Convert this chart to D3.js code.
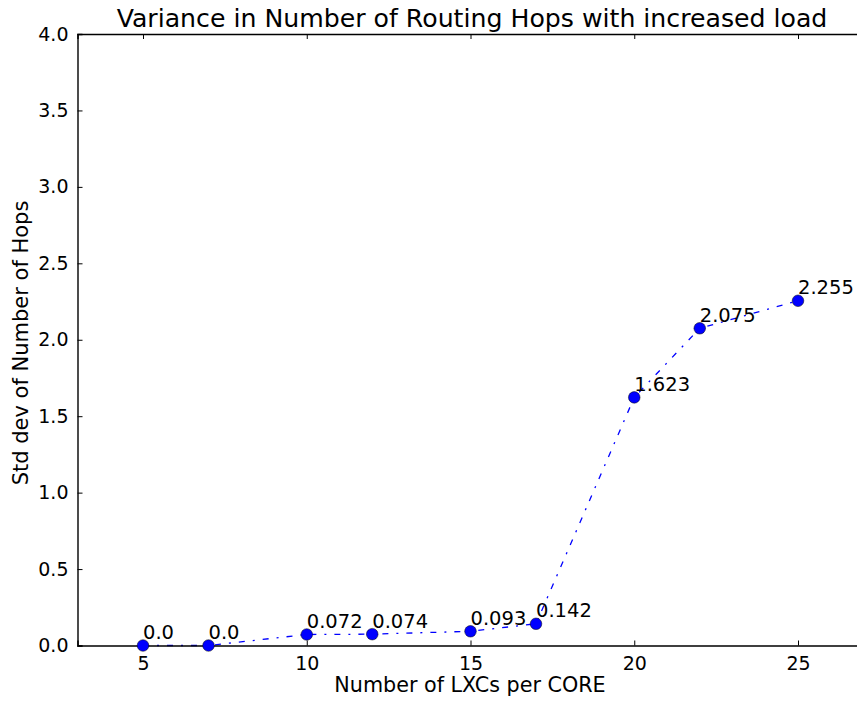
<!DOCTYPE html>
<html>
<head>
<meta charset="utf-8">
<script src="https://cdn.jsdelivr.net/npm/d3@7"></script>
<style>
  html, body { margin: 0; padding: 0; background: #fff; }
  svg { display: block; font-family: "DejaVu Sans", sans-serif; }
</style>
</head>
<body>
<svg id="chart" width="857" height="701"></svg>
<script>
const xValues = [5, 7, 10, 12, 15, 17, 20, 22, 25];
const yValues = [0.0, 0.0, 0.072, 0.074, 0.093, 0.142, 1.623, 2.075, 2.255];
const pointLabels = ["0.0", "0.0", "0.072", "0.074", "0.093", "0.142", "1.623", "2.075", "2.255"];
const xTicks = [5, 10, 15, 20, 25];
const yTicks = [0.0, 0.5, 1.0, 1.5, 2.0, 2.5, 3.0, 3.5, 4.0];
const titleText = "Variance in Number of Routing Hops with increased load";
const xLabelText = "Number of LXCs per CORE";
const yLabelText = "Std dev of Number of Hops";

const svg = d3.select("#chart");
const mLeft = 77.5, mRight = 863.5, mTop = 34, mBottom = 645.5;

const x = d3.scaleLinear().domain([3, 27]).range([mLeft, mRight]);
const y = d3.scaleLinear().domain([0, 4]).range([mBottom, mTop]);

const data = xValues.map((v, i) => ({x: v, y: yValues[i], label: pointLabels[i]}));

// Line
svg.append("path")
  .datum(data)
  .attr("fill", "none")
  .attr("stroke", "#0000ff")
  .attr("stroke-width", 1.3)
  .attr("stroke-dasharray", "6,8,2,8")
  .attr("d", d3.line().x(d => x(d.x)).y(d => y(d.y)));

// Axes (ticks inward)
const tickLen = 5;
const gB = svg.append("g").attr("transform", `translate(0,${mBottom})`)
  .call(d3.axisBottom(x).tickValues(xTicks).tickSize(-tickLen).tickPadding(11).tickFormat(d3.format("d")));
const gT = svg.append("g").attr("transform", `translate(0,${mTop})`)
  .call(d3.axisTop(x).tickValues(xTicks).tickSize(-tickLen).tickFormat(""));
const gL = svg.append("g").attr("transform", `translate(${mLeft},0)`)
  .call(d3.axisLeft(y).tickValues(yTicks).tickSize(-tickLen).tickPadding(9).tickFormat(d3.format(".1f")));
const gR = svg.append("g").attr("transform", `translate(${mRight},0)`)
  .call(d3.axisRight(y).tickValues(yTicks).tickSize(-tickLen).tickFormat(""));

[gB, gT, gL, gR].forEach(g => {
  g.select(".domain").attr("stroke", "#000").attr("stroke-width", 1.4);
  g.selectAll(".tick line").attr("stroke", "#000").attr("stroke-width", 1);
  g.selectAll(".tick text").attr("fill", "#000").style("font-family", "DejaVu Sans").style("font-size", "19px");
});
gB.selectAll(".tick text").attr("dy", "0.71em");

// Markers
svg.append("g").selectAll("circle")
  .data(data).join("circle")
  .attr("cx", d => x(d.x))
  .attr("cy", d => y(d.y))
  .attr("r", 5.8)
  .attr("fill", "#0000ff")
  .attr("stroke", "#000")
  .attr("stroke-width", 0.5);

// Annotations
svg.append("g").selectAll("text")
  .data(data).join("text")
  .attr("x", d => x(d.x))
  .attr("y", d => y(d.y) - 6.5)
  .attr("fill", "#000")
  .style("font-size", "19.5px")
  .text(d => d.label);

// Title
svg.append("text")
  .attr("x", (118 + 826) / 2)
  .attr("y", 27)
  .attr("text-anchor", "middle")
  .style("font-size", "25.2px")
  .attr("fill", "#000")
  .text(titleText);

// X label
svg.append("text")
  .attr("x", (335 + 605) / 2)
  .attr("y", 692)
  .attr("text-anchor", "middle")
  .style("font-size", "20.7px")
  .attr("fill", "#000")
  .text(xLabelText);

// Y label
svg.append("text")
  .attr("transform", `translate(27.5,${(203 + 483) / 2}) rotate(-90)`)
  .attr("text-anchor", "middle")
  .style("font-size", "21px")
  .attr("fill", "#000")
  .text(yLabelText);
</script>
</body>
</html>
